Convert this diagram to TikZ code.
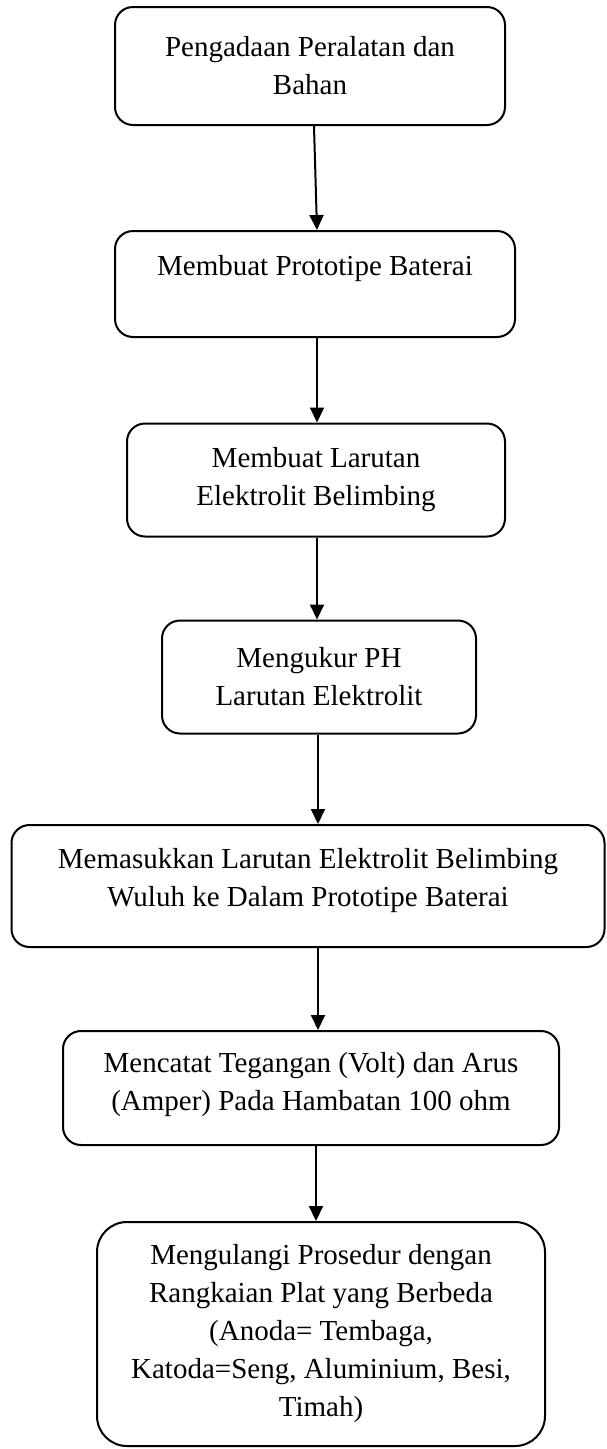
\documentclass[tikz,border=0pt]{standalone}
\usepackage{fontspec}
\setmainfont{Liberation Serif}
\usepackage{tikz}
\usetikzlibrary{arrows.meta,positioning}

\begin{document}
\begin{tikzpicture}[x=1pt,y=1pt,
    box/.style={draw,line width=2pt,rounded corners=18pt,align=center,
      inner sep=0pt,font=\fontsize{29pt}{38pt}\selectfont},
    flow/.style={line width=2pt,-{Triangle[length=15pt,width=14pt]}}]
        \useasboundingbox (0,0) rectangle (606,-1449);
        % boxes: centre from the page top, width and height in px
        \node[box,minimum width=390,minimum height=118] (pengadaan) at (310,-66)
          {Pengadaan Peralatan dan\\Bahan};
        \node[box,minimum width=400,minimum height=106] (prototipe) at (315,-284)
          {Membuat Prototipe Baterai\\\mbox{}};
        \node[box,minimum width=378,minimum height=113] (larutan) at (316,-480)
          {Membuat Larutan\\Elektrolit Belimbing};
        \node[box,minimum width=314,minimum height=113] (ph) at (319,-677)
          {Mengukur PH\\Larutan Elektrolit};
        \node[box,minimum width=593,minimum height=122] (masuk) at (308,-886)
          {Memasukkan Larutan Elektrolit Belimbing\\Wuluh ke Dalam Prototipe Baterai\\[-20pt]\mbox{}};
        \node[box,minimum width=496,minimum height=114] (catat) at (311,-1088)
          {Mencatat Tegangan (Volt) dan Arus\\(Amper) Pada Hambatan 100 ohm\\[-24pt]\mbox{}};
        \node[box,rounded corners=30pt,minimum width=448,minimum height=224] (ulang) at (321,-1334)
          {Mengulangi Prosedur dengan\\Rangkaian Plat yang Berbeda\\(Anoda= Tembaga,\\Katoda=Seng, Aluminium, Besi,\\Timah)};
        % arrows run down one line
        \coordinate (jalur) at (317,0);
        \draw[flow] ([xshift=4pt]pengadaan.south) -- (prototipe.north -| jalur);
        \draw[flow] (prototipe.south -| jalur) -- (larutan.north -| jalur);
        \draw[flow] (larutan.south -| jalur) -- (ph.north -| jalur);
        \draw[flow] ([xshift=1pt]ph.south -| jalur) -- ([xshift=1pt]masuk.north -| jalur);
        \draw[flow] ([xshift=1pt]masuk.south -| jalur) -- ([xshift=1pt]catat.north -| jalur);
        \draw[flow] ([xshift=-1pt]catat.south -| jalur) -- ([xshift=-1pt]ulang.north -| jalur);
      \end{tikzpicture}
\end{document}
